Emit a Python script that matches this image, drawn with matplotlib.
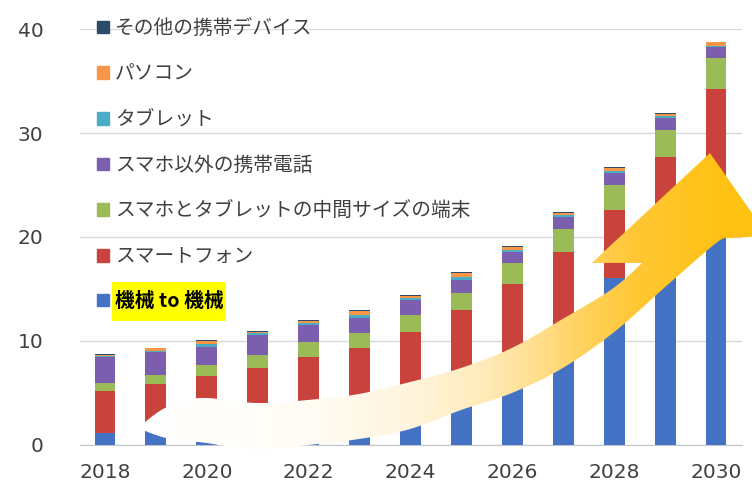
import numpy as np
import matplotlib.pyplot as plt
from matplotlib.patches import Polygon, Rectangle
from matplotlib.colors import LinearSegmentedColormap

plt.rcParams['font.family'] = ['Noto Sans CJK JP', 'DejaVu Sans']

# 世界の接続デバイス数（十億台）
years = list(range(2018, 2031))
m2m = [1.1, 1.3, 1.6, 2.0, 2.5, 3.1, 4.0, 5.3, 7.0, 10.5, 16.0, 21.0, 26.0]
smartphone = [4.05, 4.53, 5.0, 5.37, 5.93, 6.2, 6.84, 7.66, 8.46, 8.05, 6.59, 6.7, 8.25]
middle = [0.77, 0.87, 1.06, 1.25, 1.44, 1.44, 1.64, 1.64, 2.03, 2.21, 2.41, 2.6, 2.99]
feature_phone = [2.5, 2.2, 1.74, 1.93, 1.64, 1.45, 1.44, 1.25, 1.06, 1.16, 1.16, 1.15, 1.05]
tablet = [0.1, 0.15, 0.25, 0.15, 0.2, 0.3, 0.2, 0.3, 0.2, 0.2, 0.2, 0.2, 0.1]
pc = [0.15, 0.2, 0.35, 0.18, 0.23, 0.4, 0.23, 0.4, 0.3, 0.22, 0.3, 0.22, 0.35]
other = [0.05, 0.05, 0.07, 0.05, 0.05, 0.07, 0.05, 0.07, 0.07, 0.06, 0.07, 0.07, 0.04]

series = [m2m, smartphone, middle, feature_phone, tablet, pc, other]
labels = ["機械 to 機械", "スマートフォン", "スマホとタブレットの中間サイズの端末",
          "スマホ以外の携帯電話", "タブレット", "パソコン", "その他の携帯デバイス"]
colors = ["#4472C4", "#C9423C", "#9BBB59", "#7B5EAE", "#4BACC6", "#F79646", "#2E4A6B"]

W, H = 752, 484
fig = plt.figure(figsize=(W / 100, H / 100), dpi=100)
left, bottom = 79.5 / W, (H - 444.5) / H
width, height = 662 / W, 415.2 / H
ax = fig.add_axes([left, bottom, width, height])

base = np.zeros(len(years))
handles = []
for vals, lab, col in zip(series, labels, colors):
    ax.bar(years, vals, width=0.41, bottom=base, color=col, zorder=2)
    base += np.array(vals)
    handles.append(Rectangle((0, 0), 1, 1, color=col))

ax.set_xlim(2017.5, 2030.5)
ax.set_ylim(0, 40)
ax.set_yticks([0, 10, 20, 30, 40])
ax.set_xticks(range(2018, 2031, 2))
ax.yaxis.grid(True, color="#D9D9D9", lw=1)
ax.set_axisbelow(True)
for s in ["left", "right", "top"]:
    ax.spines[s].set_visible(False)
ax.spines["bottom"].set_color("#BFC3CC")
ax.tick_params(length=0, labelsize=14.5, labelcolor="#404040",
               labelfontfamily="DejaVu Sans")
ax.tick_params(axis="y", pad=26)
ax.tick_params(axis="x", pad=13)

leg = ax.legend(handles[::-1], labels[::-1], loc="upper left",
                bbox_to_anchor=(97 / W, 1 - 18 / H), bbox_transform=fig.transFigure,
                frameon=False, fontsize=14.2, labelcolor="#404040",
                handlelength=0.6, handleheight=0.6, handletextpad=0.3,
                labelspacing=1.25, borderpad=0, borderaxespad=0)
hl = leg.get_texts()[-1]
hl.set_fontweight("bold")
hl.set_color("black")
hl.set_bbox(dict(boxstyle="square,pad=0.12", mutation_aspect=4.2,
                 facecolor="#FFFF00", edgecolor="none"))


# 矢印の輪郭をなめらかにする（Catmull-Rom）
def smooth(pts, n=12):
    pts = np.asarray(pts, float)
    p = np.vstack([pts[0], pts, pts[-1]])
    out = []
    t = np.linspace(0, 1, n, endpoint=False)[:, None]
    for i in range(1, len(p) - 2):
        p0, p1, p2, p3 = p[i - 1], p[i], p[i + 1], p[i + 2]
        out.append(0.5 * (2 * p1 + (p2 - p0) * t
                          + (2 * p0 - 5 * p1 + 4 * p2 - p3) * t ** 2
                          + (3 * p1 - p0 - 3 * p2 + p3) * t ** 3))
    out.append(pts[-1:])
    return np.vstack(out)


tip = (2018.65, 1.59)
upper = [tip, (2019.18, 3.52), (2019.87, 4.48), (2020.98, 4.0), (2021.99, 4.29),
         (2022.99, 4.87), (2023.99, 6.02), (2024.99, 7.37), (2025.99, 9.3),
         (2026.99, 12.1), (2027.96, 14.98), (2028.55, 17.49)]
head = [(2027.56, 17.49), (2029.88, 28.08), (2031.02, 20.09)]
lower = [(2030.24, 19.89), (2030.0, 19.41), (2029.0, 15.17), (2028.0, 10.84),
         (2026.99, 7.37), (2025.99, 4.96), (2024.99, 3.32), (2023.99, 1.49),
         (2022.99, 0.53), (2021.99, -0.05), (2021.0, -0.53), (2020.0, 0.14),
         (2019.2, 0.63), tip]
outline = np.vstack([smooth(upper), np.array(head), smooth(lower)])

# 図全体を覆う軸を、本体と同じデータ座標になるように重ねる
ax2 = fig.add_axes([0, 0, 1, 1], zorder=5)
ax2.axis("off")
sx = (2030.5 - 2017.5) / width
sy = 40 / height
lim_x = (2017.5 - left * sx, 2017.5 + (1 - left) * sx)
lim_y = (-bottom * sy, (1 - bottom) * sy)

arrow = Polygon(outline, closed=True, facecolor="none", edgecolor="none")
ax2.add_patch(arrow)
x0, x1 = 2018.5, 2031.2
stops = [(2018.5, (1, 1, 1)), (2019.0, (1, 1, 1)), (2022.0, (1, 0.99, 0.96)),
         (2024.0, (1, 0.96, 0.87)), (2025.5, (1, 0.92, 0.72)),
         (2026.5, (1, 0.87, 0.55)), (2027.5, (1, 0.82, 0.35)),
         (2028.5, (1, 0.78, 0.2)), (2030.0, (1, 0.76, 0.08)),
         (2031.2, (1, 0.76, 0.06))]
cmap = LinearSegmentedColormap.from_list(
    "arrow", [((x - x0) / (x1 - x0), c) for x, c in stops])
grad = np.linspace(0, 1, 512)[None, :].repeat(2, axis=0)
im = ax2.imshow(grad, extent=(x0, x1, -2, 30), origin="lower", aspect="auto",
                cmap=cmap, interpolation="bilinear")
im.set_clip_path(arrow)
ax2.set_xlim(*lim_x)
ax2.set_ylim(*lim_y)

fig.savefig("out.png", dpi=100)
